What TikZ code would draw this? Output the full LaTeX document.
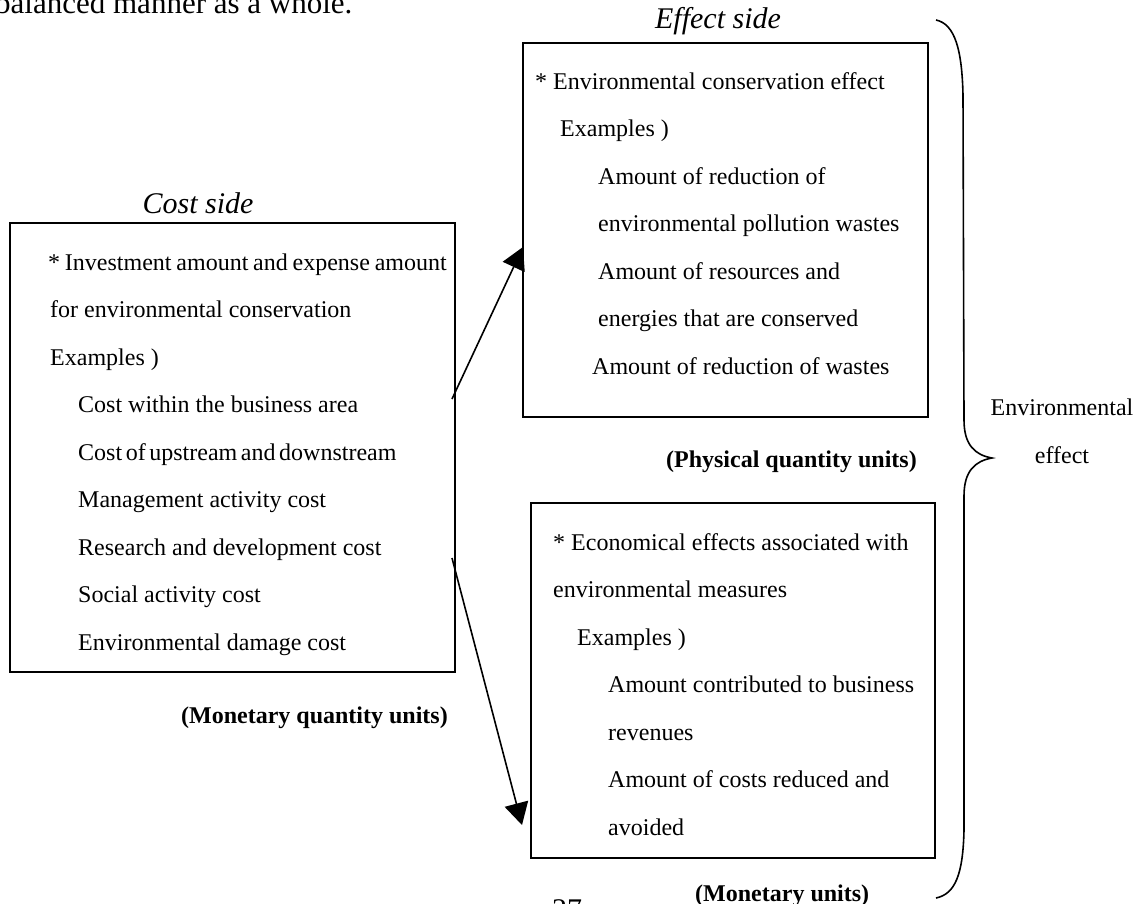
\documentclass[tikz,border=0pt]{standalone}
\usepackage{fontspec}
\setmainfont{Liberation Serif}
\usetikzlibrary{arrows.meta}
\begin{document}
\begin{tikzpicture}[x=1pt,y=-1pt,
  txt/.style={anchor=base west, inner sep=0pt, font=\fontsize{24}{28}\selectfont},
  para/.style={anchor=base west, inner sep=0pt, font=\fontsize{31}{36}\selectfont},
  ttl/.style={anchor=base, inner sep=0pt, font=\fontsize{30}{34}\selectfont\itshape},
  unitlbl/.style={inner sep=0pt, font=\fontsize{24}{28}\selectfont\bfseries},
  box/.style={draw, line width=1.8pt, inner sep=0pt, anchor=north west},
  conn/.style={line width=1.6pt, -{Triangle[length=22pt,width=24pt]}},
  bracepath/.style={line width=1.6pt}
  ]
\useasboundingbox (0,0) rectangle (1141,903);
\clip (0,0) rectangle (1141,903);

% fragments of the surrounding page
\node[para] (pagetext) at (-5,13) {balanced manner as a whole.};
\node[para, font=\fontsize{30}{34}\selectfont] (pagenum) at (552,919) {27};

% titles
\node[ttl] (costtitle) at (198,213) {Cost side};
\node[ttl] (efftitle) at (718,28) {Effect side};

% boxes
\node[box, minimum width=445pt, minimum height=449pt] (cost) at (9,222) {};
\node[box, minimum width=405pt, minimum height=374pt] (phys) at (522,42) {};
\node[box, minimum width=404pt, minimum height=355pt] (econ) at (530,502) {};

% cost box text
\node[txt] (c0) at (48,270) {{\spaceskip=0.2em plus 0.1em\relax * Investment amount and expense amount}};
\node[txt] (c1) at (50,317.5) {for environmental conservation};
\node[txt] (c2) at (50,365) {Examples )};
\node[txt] (c3) at (78,412.5) {Cost within the business area};
\node[txt] (c4) at (78,460) {{\spaceskip=0.15em\relax Cost of upstream and downstream}};
\node[txt] (c5) at (78,507.5) {Management activity cost};
\node[txt] (c6) at (78,555) {Research and development cost};
\node[txt] (c7) at (78,602.5) {Social activity cost};
\node[txt] (c8) at (78,650) {Environmental damage cost};

% physical effect box text
\node[txt] (p0) at (535,89) {* Environmental conservation effect};
\node[txt] (p1) at (560,136.5) {Examples )};
\node[txt] (p2) at (598,184) {Amount of reduction of};
\node[txt] (p3) at (598,231.5) {environmental pollution wastes};
\node[txt] (p4) at (598,279) {Amount of resources and};
\node[txt] (p5) at (598,326.5) {energies that are conserved};
\node[txt] (p6) at (592,374) {Amount of reduction of wastes};

% economical effect box text
\node[txt] (e0) at (553,550) {* Economical effects associated with};
\node[txt] (e1) at (553,597.5) {environmental measures};
\node[txt] (e2) at (577,645) {Examples )};
\node[txt] (e3) at (608,692.5) {Amount contributed to business};
\node[txt] (e4) at (608,740) {revenues};
\node[txt] (e5) at (608,787.5) {Amount of costs reduced and};
\node[txt] (e6) at (608,835) {avoided};

% unit labels
\node[unitlbl, anchor=base east] (u1) at (917,467) {(Physical quantity units)};
\node[unitlbl, anchor=base east] (u2) at (448,723) {(Monetary quantity units)};
\node[unitlbl, anchor=base west] (u3) at (695,901) {(Monetary units)};

% environmental effect label
\node[txt, anchor=base] (env1) at (1062,415) {Environmental};
\node[txt, anchor=base] (env2) at (1062,463) {effect};

% connectors
\coordinate (a1s) at (452,399);
\coordinate (a1e) at (523,247);
\coordinate (a2s) at (452,558);
\coordinate (a2e) at (522,825);
\draw[conn] (a1s) -- (a1e);
\draw[conn] (a2s) -- (a2e);

% brace
\draw[bracepath] (936,20) .. controls (955,24) and (962,50) .. (963,95)
  -- (964,420) .. controls (964,445) and (975,455) .. (992,458)
  .. controls (975,461) and (964,471) .. (964,496)
  -- (964,830) .. controls (963,875) and (955,894) .. (936,898);
\end{tikzpicture}
\end{document}
